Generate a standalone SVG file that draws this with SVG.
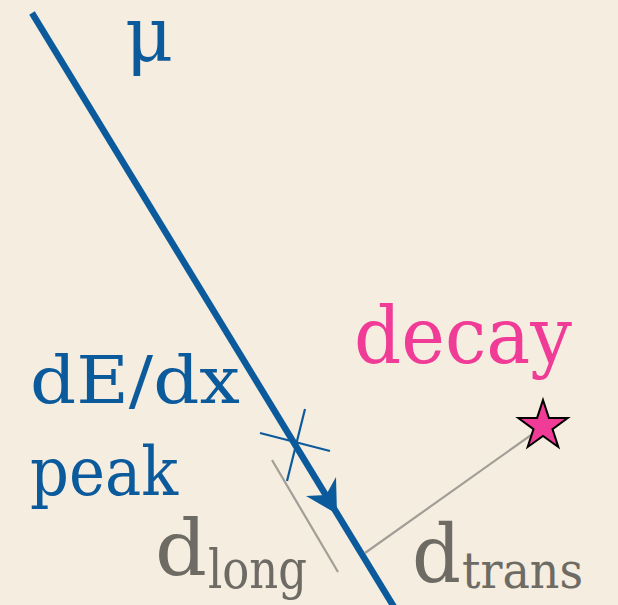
<svg xmlns="http://www.w3.org/2000/svg" width="618" height="605" viewBox="0 0 618 605">
<style>
text{font-family:'DejaVu Serif','Liberation Serif',serif}
.blue{fill:#0b5a9c}
.gray{fill:#6e6b65}
.gl{stroke:#a29e96;stroke-width:2.2;fill:none}
</style>
<rect width="618" height="605" fill="#f4ede0"/>
<g id="connectors">
<line id="track" x1="32" y1="13" x2="394" y2="607" stroke="#0b5a9c" stroke-width="6.5"/>
<path id="arrow" d="M337,514 L306,496 L326,495 L336,477 Z" fill="#0b5a9c"/>
<g id="peak-cross" stroke="#0b5a9c" stroke-width="2.2">
<line x1="260" y1="433" x2="330" y2="451"/>
<line x1="305" y1="409" x2="287" y2="481"/>
</g>
<line id="dlong-line" class="gl" x1="272" y1="460" x2="338" y2="572"/>
<line id="dtrans-line" class="gl" x1="365" y1="553" x2="541" y2="428"/>
</g>
<g id="decay-star">
<polygon points="543,400 548.9,417.9 567.7,418 552.5,429.1 558.3,447 543,436 527.7,447 533.5,429.1 518.3,418 537.1,417.9" fill="#f03c96" stroke="#000" stroke-width="2" stroke-linejoin="miter"/>
</g>
<g id="labels">
<text id="mu" class="blue" x="125" y="60" font-size="74">μ</text>
<text id="dedx" class="blue" x="30" y="403" font-size="66" textLength="210" lengthAdjust="spacingAndGlyphs">dE/dx</text>
<text id="peak" class="blue" x="30" y="495" font-size="68" textLength="148" lengthAdjust="spacingAndGlyphs">peak</text>
<text id="decay" fill="#f03c96" x="354" y="363" font-size="78" textLength="218" lengthAdjust="spacingAndGlyphs">decay</text>
<g id="dlong">
<text class="gray" x="155" y="575" font-size="76" textLength="52" lengthAdjust="spacingAndGlyphs">d</text>
<text class="gray" x="208" y="588" font-size="54" textLength="99" lengthAdjust="spacingAndGlyphs">long</text>
</g>
<g id="dtrans">
<text class="gray" x="412" y="582" font-size="80" textLength="49" lengthAdjust="spacingAndGlyphs">d</text>
<text class="gray" x="462" y="588" font-size="50" textLength="121" lengthAdjust="spacingAndGlyphs">trans</text>
</g>
</g>
</svg>
